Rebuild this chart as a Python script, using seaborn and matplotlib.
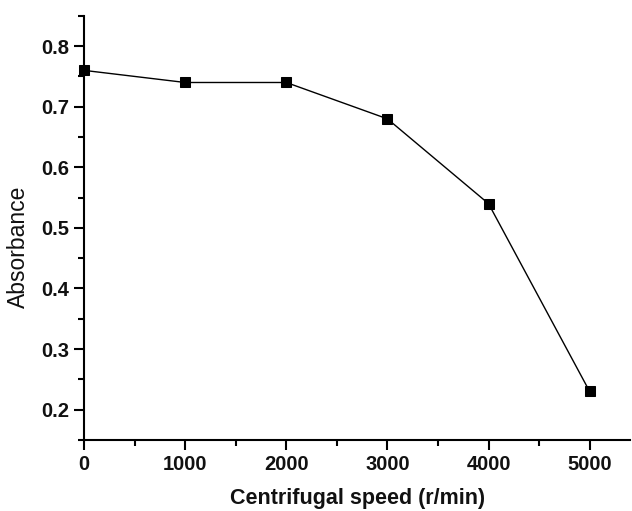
import pandas as pd
import seaborn as sns
import matplotlib
matplotlib.use("Agg")
import matplotlib.pyplot as plt
from matplotlib.ticker import MultipleLocator

speed = [0, 1000, 2000, 3000, 4000, 5000]
absorbance = [0.76, 0.74, 0.74, 0.68, 0.54, 0.23]


def set_config():
    sns.set_theme(style="ticks")
    plt.rcParams["font.family"] = ["Liberation Sans", "DejaVu Sans"]
    plt.rcParams["xtick.direction"] = "out"
    plt.rcParams["ytick.direction"] = "out"
    plt.rcParams["text.color"] = "black"
    plt.rcParams["axes.labelcolor"] = "black"


def main():
    set_config()
    df = pd.DataFrame({"speed": speed, "absorbance": absorbance})

    fig = plt.figure(figsize=(6.32, 5.11), dpi=100)
    ax = fig.add_axes([0.133, 0.139, 0.864, 0.830])
    sns.lineplot(data=df, x="speed", y="absorbance", ax=ax, color="black",
                 linewidth=1, marker="s", markersize=7, markeredgecolor="black",
                 clip_on=False)

    ax.set_xlim(0, 5400)
    ax.set_ylim(0.15, 0.85)
    ax.xaxis.set_major_locator(MultipleLocator(1000))
    ax.xaxis.set_minor_locator(MultipleLocator(500))
    ax.yaxis.set_major_locator(MultipleLocator(0.1))
    ax.yaxis.set_minor_locator(MultipleLocator(0.05))
    ax.tick_params(which="major", length=7, width=1.5, color="black",
                   labelcolor="#111111", labelsize=14.5, pad=4)
    ax.tick_params(which="minor", length=4, width=1.5, color="black")
    for lab in ax.get_xticklabels() + ax.get_yticklabels():
        lab.set_fontweight("bold")

    for side in ["top", "right"]:
        ax.spines[side].set_visible(False)
    for side in ["left", "bottom"]:
        ax.spines[side].set_linewidth(1.5)
        ax.spines[side].set_color("black")

    ax.set_xlabel("Centrifugal speed (r/min)", fontsize=15.5, fontweight="bold",
                  labelpad=10, color="#111111")
    ax.set_ylabel("Absorbance", fontsize=16.5, va="center", color="#111111")
    ax.yaxis.set_label_coords(-0.121, 0.455)

    fig.savefig("out.png", dpi=100)


if __name__ == "__main__":
    main()
